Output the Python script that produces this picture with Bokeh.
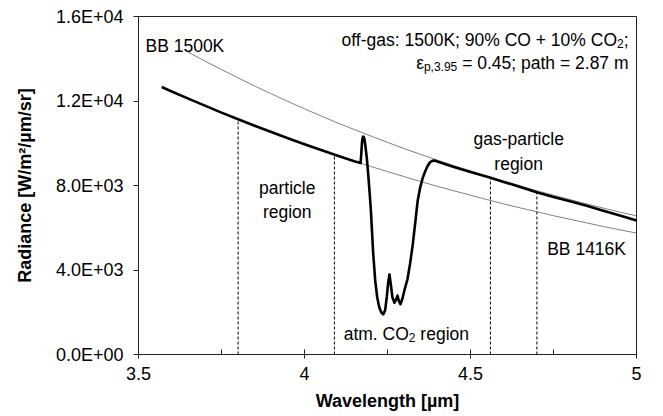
from bokeh.plotting import figure
from bokeh.models import Range1d, FixedTicker
from bokeh.core.properties import value
from bokeh.embed import file_html
from bokeh.resources import INLINE

# ---- data ----
wavelength = [3.57, 3.6, 3.65, 3.7, 3.75, 3.8, 3.85, 3.9, 3.95, 4.0, 4.05, 4.1, 4.15,
              4.169, 4.171, 4.173, 4.175, 4.177, 4.179, 4.181, 4.184, 4.188, 4.192,
              4.196, 4.2, 4.207, 4.213, 4.219, 4.225, 4.231, 4.237, 4.243, 4.248, 4.252,
              4.256, 4.26, 4.265, 4.271, 4.276, 4.280, 4.284, 4.289, 4.295, 4.302,
              4.31, 4.318, 4.326, 4.334, 4.341, 4.349, 4.356, 4.363, 4.37, 4.378,
              4.385, 4.392, 4.40, 4.45, 4.5, 4.558, 4.6, 4.65, 4.699, 4.75, 4.8,
              4.85, 4.9, 4.95, 5.0]
radiance = [12660, 12450, 12110, 11780, 11450, 11140, 10830, 10530, 10240, 9955, 9680, 9410, 9150,
            9060, 9500, 10000, 10250, 10320, 10280, 10150, 9800, 9250, 8500,
            7700, 6800, 4770, 3500, 2710, 2250, 2000, 1900, 2100, 2750, 3400,
            3790, 3300, 2700, 2450, 2600, 2790, 2550, 2380, 2650, 3100,
            3550, 4300, 5200, 6300, 7290, 7950, 8350, 8650, 8900, 9100,
            9170, 9180, 9140, 8880, 8640, 8380, 8170, 7930, 7680, 7460, 7250,
            7040, 6810, 6580, 6340]

bb1500_wl = [3.65, 3.7, 3.75, 3.8, 3.85, 3.9, 3.95, 4.0, 4.05, 4.1, 4.15, 4.2, 4.25, 4.3,
             4.35, 4.4, 4.45, 4.5, 4.55, 4.6, 4.65, 4.7, 4.75, 4.8, 4.85, 4.9, 4.95, 5.0]
bb1500 = [14310, 13890, 13490, 13090, 12710, 12340, 11980, 11630, 11290, 10960, 10650, 10340,
          10040, 9750, 9470, 9200, 8940, 8690, 8440, 8210, 7980, 7750, 7540, 7330, 7130,
          6930, 6740, 6560]

bb1416_wl = [3.57, 3.6, 3.65, 3.7, 3.75, 3.8, 3.85, 3.9, 3.95, 4.0, 4.05, 4.1, 4.15, 4.2,
             4.25, 4.3, 4.35, 4.4, 4.45, 4.5, 4.55, 4.6, 4.65, 4.7, 4.75, 4.8, 4.85, 4.9,
             4.95, 5.0]
bb1416 = [12660, 12450, 12110, 11780, 11450, 11140, 10830, 10530, 10240, 9955, 9680, 9410,
          9150, 8900, 8660, 8420, 8190, 7960, 7750, 7540, 7330, 7130, 6940, 6755, 6570,
          6400, 6230, 6060, 5900, 5750]

region_bounds = [3.8, 4.09, 4.56, 4.70]
region_tops = [11150, 9440, 8370, 7680]

x_ticks = [3.5, 4.0, 4.5, 5.0]
x_tick_labels = ["3.5", "4", "4.5", "5"]
x_minor_ticks = [3.75, 4.25, 4.75]
y_ticks = [0, 4000, 8000, 12000, 16000]
y_tick_labels = ["0.0E+00", "4.0E+03", "8.0E+03", "1.2E+04", "1.6E+04"]

FONT = "Liberation Sans"
AX = "#222222"
ANN = 17.5          # annotation font size, px
SUB = 12            # subscript font size, px

p = figure(width=663, height=416, output_backend="svg", toolbar_location=None,
           x_range=Range1d(3.5, 5.0), y_range=Range1d(0, 16000),
           min_border_left=138, min_border_right=27, min_border_top=16,
           min_border_bottom=62)
p.grid.visible = False
p.outline_line_color = AX
p.outline_line_width = 1
p.background_fill_color = "white"
p.border_fill_color = "white"

# x axis
xa = p.xaxis[0]
xa.ticker = FixedTicker(ticks=x_ticks, minor_ticks=x_minor_ticks)
xa.major_label_overrides = {t: l for t, l in zip(x_ticks, x_tick_labels)}
xa.axis_label = "Wavelength [µm]"
xa.major_tick_in = 5
xa.major_tick_out = 4
xa.minor_tick_in = 5
xa.minor_tick_out = 0

# y axis
ya = p.yaxis[0]
ya.ticker = FixedTicker(ticks=y_ticks, minor_ticks=[])
ya.major_label_overrides = {t: l for t, l in zip(y_ticks, y_tick_labels)}
ya.axis_label = "Radiance [W/m²/µm/sr]"
ya.major_tick_in = 0
ya.major_tick_out = 5

for ax in (xa, ya):
    ax.axis_line_color = AX
    ax.major_tick_line_color = AX
    ax.major_label_text_font = FONT
    ax.major_label_text_font_size = "18px"
    ax.major_label_text_color = "black"
    ax.axis_label_text_font = FONT
    ax.axis_label_text_font_size = "18px"
    ax.axis_label_text_font_style = "bold"
    ax.axis_label_text_color = "black"
xa.minor_tick_line_color = AX
ya.minor_tick_line_color = None

xa.major_label_standoff = 8
xa.axis_label_standoff = 8
ya.major_label_standoff = 10
ya.axis_label_standoff = 18

# curves
p.line(bb1500_wl, bb1500, line_color="#808080", line_width=1)
p.line(bb1416_wl, bb1416, line_color="#808080", line_width=1)
p.segment(x0=region_bounds, y0=[0] * len(region_bounds), x1=region_bounds, y1=region_tops,
          line_color="black", line_width=1, line_dash="3 2")
p.line(wavelength, radiance, line_color="black", line_width=2.6, line_join="round")


def txt(x, y, s, size=ANN, align="left", xo=0, yo=0):
    p.text(x=[x], y=[y], text=[s], text_font=value(FONT), text_font_size=f"{size}px",
           text_align=align, text_baseline="alphabetic", text_color="black",
           x_offset=xo, y_offset=yo)


txt(3.521, 14580, "BB 1500K")
txt(3.948, 7858, "particle", align="center")
txt(3.948, 6769, "region", align="center")
txt(4.645, 10178, "gas-particle", align="center")
txt(4.645, 9041, "region", align="center")
txt(4.731, 5003, "BB 1416K")

# widths (Arial/Liberation metrics, em)
w_atmco = 3.723 * ANN
w_sub2 = 0.556 * SUB
w_space = 0.278 * ANN
w_semi = 0.278 * ANN
w_line2 = 9.507 * ANN
w_psub = 2.78 * SUB

# atm. CO2 region (with subscript), centred on ~4.33
x_atm = 4.118
txt(x_atm, 978, "atm. CO")
txt(x_atm, 978, "2", size=SUB, xo=w_atmco, yo=4)
txt(x_atm, 978, "region", xo=w_atmco + w_sub2 + w_space)

# off-gas annotation (right aligned)
x_r = 4.976
txt(x_r, 14911, ";", align="right")
txt(x_r, 14911, "2", size=SUB, align="right", xo=-w_semi, yo=4)
txt(x_r, 14911, "off-gas: 1500K; 90% CO + 10% CO", align="right", xo=-(w_semi + w_sub2))
txt(x_r, 13822, "= 0.45; path = 2.87 m", align="right")
txt(x_r, 13822, "p,3.95", size=SUB, align="right", xo=-(w_line2 + w_space), yo=4)
txt(x_r, 13822, "ε", align="right", xo=-(w_line2 + w_space + w_psub))

open("out.html", "w").write(file_html(p, INLINE))
